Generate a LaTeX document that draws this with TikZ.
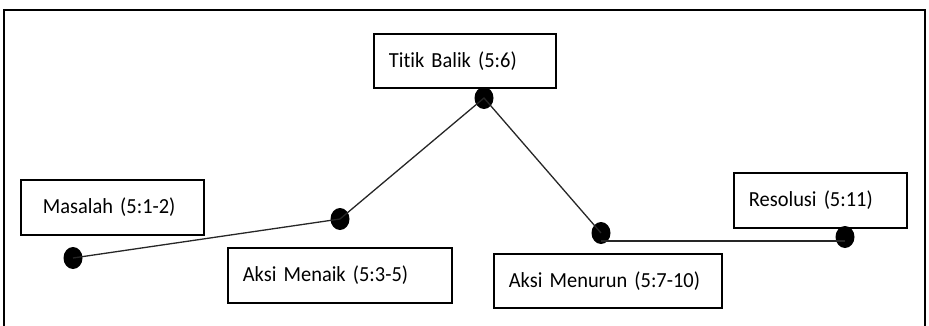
\documentclass[tikz,border=0pt]{standalone}
\usepackage{fontspec}
\setmainfont{Carlito}[Ligatures={NoCommon},FakeStretch=0.95]
\usetikzlibrary{shapes.geometric}
\newcommand{\mylblfont}{\fontsize{21.5}{25}\selectfont\spaceskip=4.2pt\relax}
\begin{document}
\begin{tikzpicture}[x=1pt,y=-1pt,
  lbl/.style={draw=black,line width=1.8pt,fill=white,inner xsep=15pt,inner ysep=0pt,
    align=left,font=\mylblfont,anchor=north west},
  dot/.style={ellipse,fill=black,draw=none,minimum width=19pt,minimum height=22pt,inner sep=0pt},
  conn/.style={line width=1.3pt,draw=black!85}]
\useasboundingbox (0,0) rectangle (929,325);
\draw[line width=2.5pt] (4,330) -- (4,10) -- (925,10) -- (925,330);
% labels
\node[lbl,text width=152pt,minimum height=54pt] (tb) at (373,33) {Titik Balik (5:6)};
\node[lbl,text width=153pt,minimum height=55pt] (ms) at (20,179) {\hspace*{7pt}Masalah (5:1-2)};
\node[lbl,text width=194pt,minimum height=55pt] (am) at (227,247) {Aksi Menaik (5:3-5)};
\node[lbl,text width=143pt,minimum height=55pt] (rs) at (733,172) {Resolusi (5:11)};
\node[lbl,text width=198pt,minimum height=54pt] (an) at (493,253) {Aksi Menurun (5:7-10)};
% dots
\node[dot] (dm) at (73,258) {};
\node[dot] (da) at (340,219) {};
\node[dot] (dt) at (484,98) {};
\node[dot] (dn) at (601,233) {};
\node[dot] (dr) at (845,237) {};
% connectors
\draw[conn] (dm.center) -- (da.center) -- (dt.center) -- (dn.center);
\draw[conn] ([yshift=-8pt]dn.center) -- ([yshift=-4pt]dr.center);
\end{tikzpicture}
\end{document}
